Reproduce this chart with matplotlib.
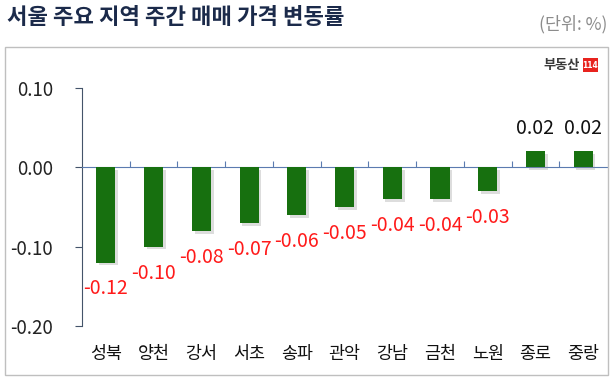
import matplotlib
matplotlib.use("Agg")
import matplotlib.pyplot as plt
import matplotlib.patheffects as pe
from matplotlib.patches import Rectangle

plt.rcParams['font.family'] = ['Noto Sans CJK KR', 'DejaVu Sans']

title = "서울 주요 지역 주간 매매 가격 변동률"
unit = "(단위: %)"
categories = ["성북", "양천", "강서", "서초", "송파", "관악", "강남", "금천", "노원", "종로", "중랑"]
values = [-0.12, -0.10, -0.08, -0.07, -0.06, -0.05, -0.04, -0.04, -0.03, 0.02, 0.02]
yticks = [0.10, 0.00, -0.10, -0.20]
ytick_labels = ["0.10", "0.00", "-0.10", "-0.20"]

W, H = 616, 382
fig = plt.figure(figsize=(W / 100, H / 100), dpi=100)

def fx(px):
    return px / W

def fy(py):
    return 1 - py / H

# outer frame
fig.patches.append(Rectangle((fx(5), fy(375)), fx(603), (375 - 47) / H,
                             transform=fig.transFigure, fill=False,
                             edgecolor="#bfbfbf", lw=1.0))

ax = fig.add_axes([fx(82), fy(326), fx(607) - fx(82), (326 - 88) / H])
x = list(range(len(categories)))
bars = ax.bar(x, values, width=0.4, color="#17700f", zorder=3)
for b in bars:
    b.set_path_effects([pe.SimplePatchShadow(offset=(2, -2), shadow_rgbFace="#909090", alpha=0.3),
                        pe.Normal()])

ax.set_xlim(-0.5, len(categories) - 0.5)
ax.set_ylim(-0.20, 0.10)

for s in ["top", "right"]:
    ax.spines[s].set_visible(False)
ax.spines["left"].set_color("#44546a")
ax.spines["bottom"].set_color("#5b7bb0")
ax.spines["bottom"].set_position(("data", 0))

ax.set_yticks(yticks)
ax.set_yticklabels(ytick_labels, fontsize=13.5, color="#222222")
ax.tick_params(axis="y", direction="out", length=5, color="#44546a", pad=16)

bounds = [i + 0.5 for i in range(len(categories) - 1)]
ax.set_xticks(bounds)
ax.set_xticklabels([])
ax.tick_params(axis="x", direction="in", length=4, color="#5b7bb0")

sec = ax.secondary_xaxis(0.0)
sec.set_xticks(x)
sec.set_xticklabels(categories, fontsize=12.5, color="#111111")
sec.tick_params(length=0, pad=14)
for s in sec.spines.values():
    s.set_visible(False)

for xi, v in zip(x, values):
    if v < 0:
        ax.annotate(f"{v:.2f}", (xi, v), xytext=(0, -19), textcoords="offset points",
                    ha="center", va="center", fontsize=14, color="#ff1a1a")
    else:
        ax.annotate(f"{v:.2f}", (xi, v), xytext=(0, 16.5), textcoords="offset points",
                    ha="center", va="center", fontsize=14, color="#111111")

fig.text(fx(7), fy(17), title, fontsize=16, fontweight="bold", color="#1b2a4a",
         ha="left", va="center")
fig.text(fx(607), fy(24), unit, fontsize=12.5, color="#8c8c8c", ha="right", va="center")

# logo
fig.text(fx(580), fy(65), "부동산", fontsize=9.5, fontweight="heavy", color="#3a3a3a",
         ha="right", va="center")
fig.patches.append(Rectangle((fx(583), fy(72)), fx(15), 14 / H, transform=fig.transFigure,
                             facecolor="#e8231e", edgecolor="none"))
fig.text(fx(590.5), fy(65), "114", fontsize=5.5, fontweight="bold", color="white",
         ha="center", va="center", family=["DejaVu Sans Condensed", "DejaVu Sans"])

fig.savefig("out.png", dpi=100)
